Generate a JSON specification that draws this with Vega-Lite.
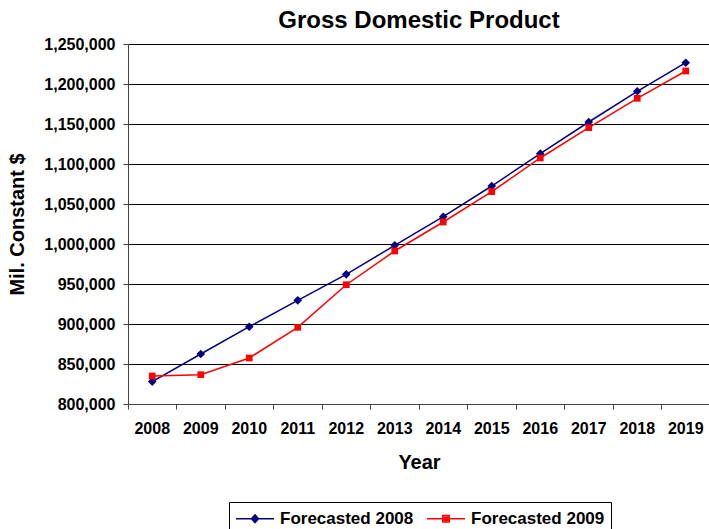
{
  "$schema": "https://vega.github.io/schema/vega-lite/v6.json",
  "width": 582,
  "height": 360,
  "autosize": {"type": "none"},
  "padding": {"left": 128, "top": 44, "right": 0, "bottom": 125},
  "background": "white",
  "config": {
    "font": "Liberation Sans",
    "view": {"stroke": "#808080", "strokeWidth": 1}
  },
  "title": {
    "text": "Gross Domestic Product",
    "font": "Liberation Sans",
    "fontSize": 24,
    "fontWeight": "bold",
    "color": "#000",
    "anchor": "middle",
    "offset": 3
  },
  "data": {
    "values": [
      {"Year": "2008", "Series": "Forecasted 2008", "GDP": 828000},
      {"Year": "2009", "Series": "Forecasted 2008", "GDP": 862500},
      {"Year": "2010", "Series": "Forecasted 2008", "GDP": 896600},
      {"Year": "2011", "Series": "Forecasted 2008", "GDP": 929600},
      {"Year": "2012", "Series": "Forecasted 2008", "GDP": 962100},
      {"Year": "2013", "Series": "Forecasted 2008", "GDP": 998300},
      {"Year": "2014", "Series": "Forecasted 2008", "GDP": 1034100},
      {"Year": "2015", "Series": "Forecasted 2008", "GDP": 1072500},
      {"Year": "2016", "Series": "Forecasted 2008", "GDP": 1112900},
      {"Year": "2017", "Series": "Forecasted 2008", "GDP": 1152500},
      {"Year": "2018", "Series": "Forecasted 2008", "GDP": 1190900},
      {"Year": "2019", "Series": "Forecasted 2008", "GDP": 1226600},
      {"Year": "2008", "Series": "Forecasted 2009", "GDP": 835000},
      {"Year": "2009", "Series": "Forecasted 2009", "GDP": 836600},
      {"Year": "2010", "Series": "Forecasted 2009", "GDP": 857500},
      {"Year": "2011", "Series": "Forecasted 2009", "GDP": 895800},
      {"Year": "2012", "Series": "Forecasted 2009", "GDP": 949100},
      {"Year": "2013", "Series": "Forecasted 2009", "GDP": 991250},
      {"Year": "2014", "Series": "Forecasted 2009", "GDP": 1027500},
      {"Year": "2015", "Series": "Forecasted 2009", "GDP": 1065400},
      {"Year": "2016", "Series": "Forecasted 2009", "GDP": 1107500},
      {"Year": "2017", "Series": "Forecasted 2009", "GDP": 1145400},
      {"Year": "2018", "Series": "Forecasted 2009", "GDP": 1182100},
      {"Year": "2019", "Series": "Forecasted 2009", "GDP": 1216250}
    ]
  },
  "encoding": {
    "x": {
      "field": "Year",
      "type": "ordinal",
      "scale": {"type": "band", "paddingInner": 0, "paddingOuter": 0},
      "axis": {
        "title": "Year",
        "bandPosition": 0,
        "grid": false,
        "labelAngle": 0,
        "labelFont": "Liberation Sans",
        "labelFontSize": 16,
        "labelFontWeight": "bold",
        "labelColor": "#000",
        "labelPadding": 11,
        "tickSize": 5,
        "tickColor": "#444",
        "domainColor": "#444",
        "titleFont": "Liberation Sans",
        "titleFontSize": 20,
        "titleFontWeight": "bold",
        "titleColor": "#000",
        "titleBaseline": "alphabetic",
        "titleY": 64
      }
    },
    "y": {
      "field": "GDP",
      "type": "quantitative",
      "scale": {"domain": [800000, 1250000], "nice": false, "zero": false},
      "axis": {
        "title": "Mil. Constant $",
        "values": [800000, 850000, 900000, 950000, 1000000, 1050000, 1100000, 1150000, 1200000, 1250000],
        "format": ",.0f",
        "grid": true,
        "gridColor": "#000",
        "gridWidth": 1,
        "labelFont": "Liberation Sans",
        "labelFontSize": 16,
        "labelFontWeight": "bold",
        "labelColor": "#000",
        "labelPadding": 8,
        "tickSize": 5,
        "tickColor": "#444",
        "domainColor": "#444",
        "titleFont": "Liberation Sans",
        "titleFontSize": 20,
        "titleFontWeight": "bold",
        "titleColor": "#000",
        "titleX": -101,
        "titleY": 180
      }
    }
  },
  "layer": [
    {
      "transform": [{"filter": "datum.Series === 'Forecasted 2008'"}],
      "mark": {"type": "line", "strokeWidth": 1.5, "color": "#000080"}
    },
    {
      "transform": [{"filter": "datum.Series === 'Forecasted 2009'"}],
      "mark": {"type": "line", "strokeWidth": 1.5, "color": "#FF0000"}
    },
    {
      "transform": [{"filter": "datum.Series === 'Forecasted 2008'"}],
      "mark": {"type": "point", "shape": "diamond", "filled": true, "opacity": 1, "size": 75, "color": "#000080"}
    },
    {
      "transform": [{"filter": "datum.Series === 'Forecasted 2009'"}],
      "mark": {"type": "point", "shape": "square", "filled": true, "opacity": 1, "size": 45, "color": "#FF0000"}
    },
    {
      "mark": {"type": "point", "filled": false, "opacity": 0},
      "encoding": {
        "color": {
          "field": "Series",
          "type": "nominal",
          "scale": {"domain": ["Forecasted 2008", "Forecasted 2009"], "range": ["#000080", "#FF0000"]},
          "legend": {
            "title": null,
            "orient": "none",
            "legendX": 101,
            "legendY": 458,
            "direction": "horizontal",
            "strokeColor": "#000",
            "padding": 6,
            "columnPadding": 10,
            "labelFont": "Liberation Sans",
            "labelFontSize": 17,
            "labelFontWeight": "bold",
            "labelColor": "#000",
            "labelOffset": 24,
            "symbolSize": 361,
            "symbolStrokeWidth": 1.5,
            "symbolFillColor": "transparent"
          }
        },
        "shape": {
          "field": "Series",
          "type": "nominal",
          "scale": {
            "domain": ["Forecasted 2008", "Forecasted 2009"],
            "range": [
              "M-1,0H3M1,-0.42L1.37,0L1,0.42L0.63,0ZM1,-0.21L1.18,0L1,0.21L0.82,0ZM1,-0.3V0.3",
              "M-1,0H3M0.66,-0.34H1.34V0.34H0.66ZM0.83,-0.17H1.17V0.17H0.83ZM1,-0.25V0.25"
            ]
          },
          "legend": {
            "title": null,
            "orient": "none",
            "legendX": 101,
            "legendY": 458,
            "direction": "horizontal",
            "strokeColor": "#000",
            "padding": 6,
            "columnPadding": 10,
            "labelFont": "Liberation Sans",
            "labelFontSize": 17,
            "labelFontWeight": "bold",
            "labelColor": "#000",
            "labelOffset": 24,
            "symbolSize": 361,
            "symbolStrokeWidth": 1.5,
            "symbolFillColor": "transparent"
          }
        }
      }
    }
  ]
}
